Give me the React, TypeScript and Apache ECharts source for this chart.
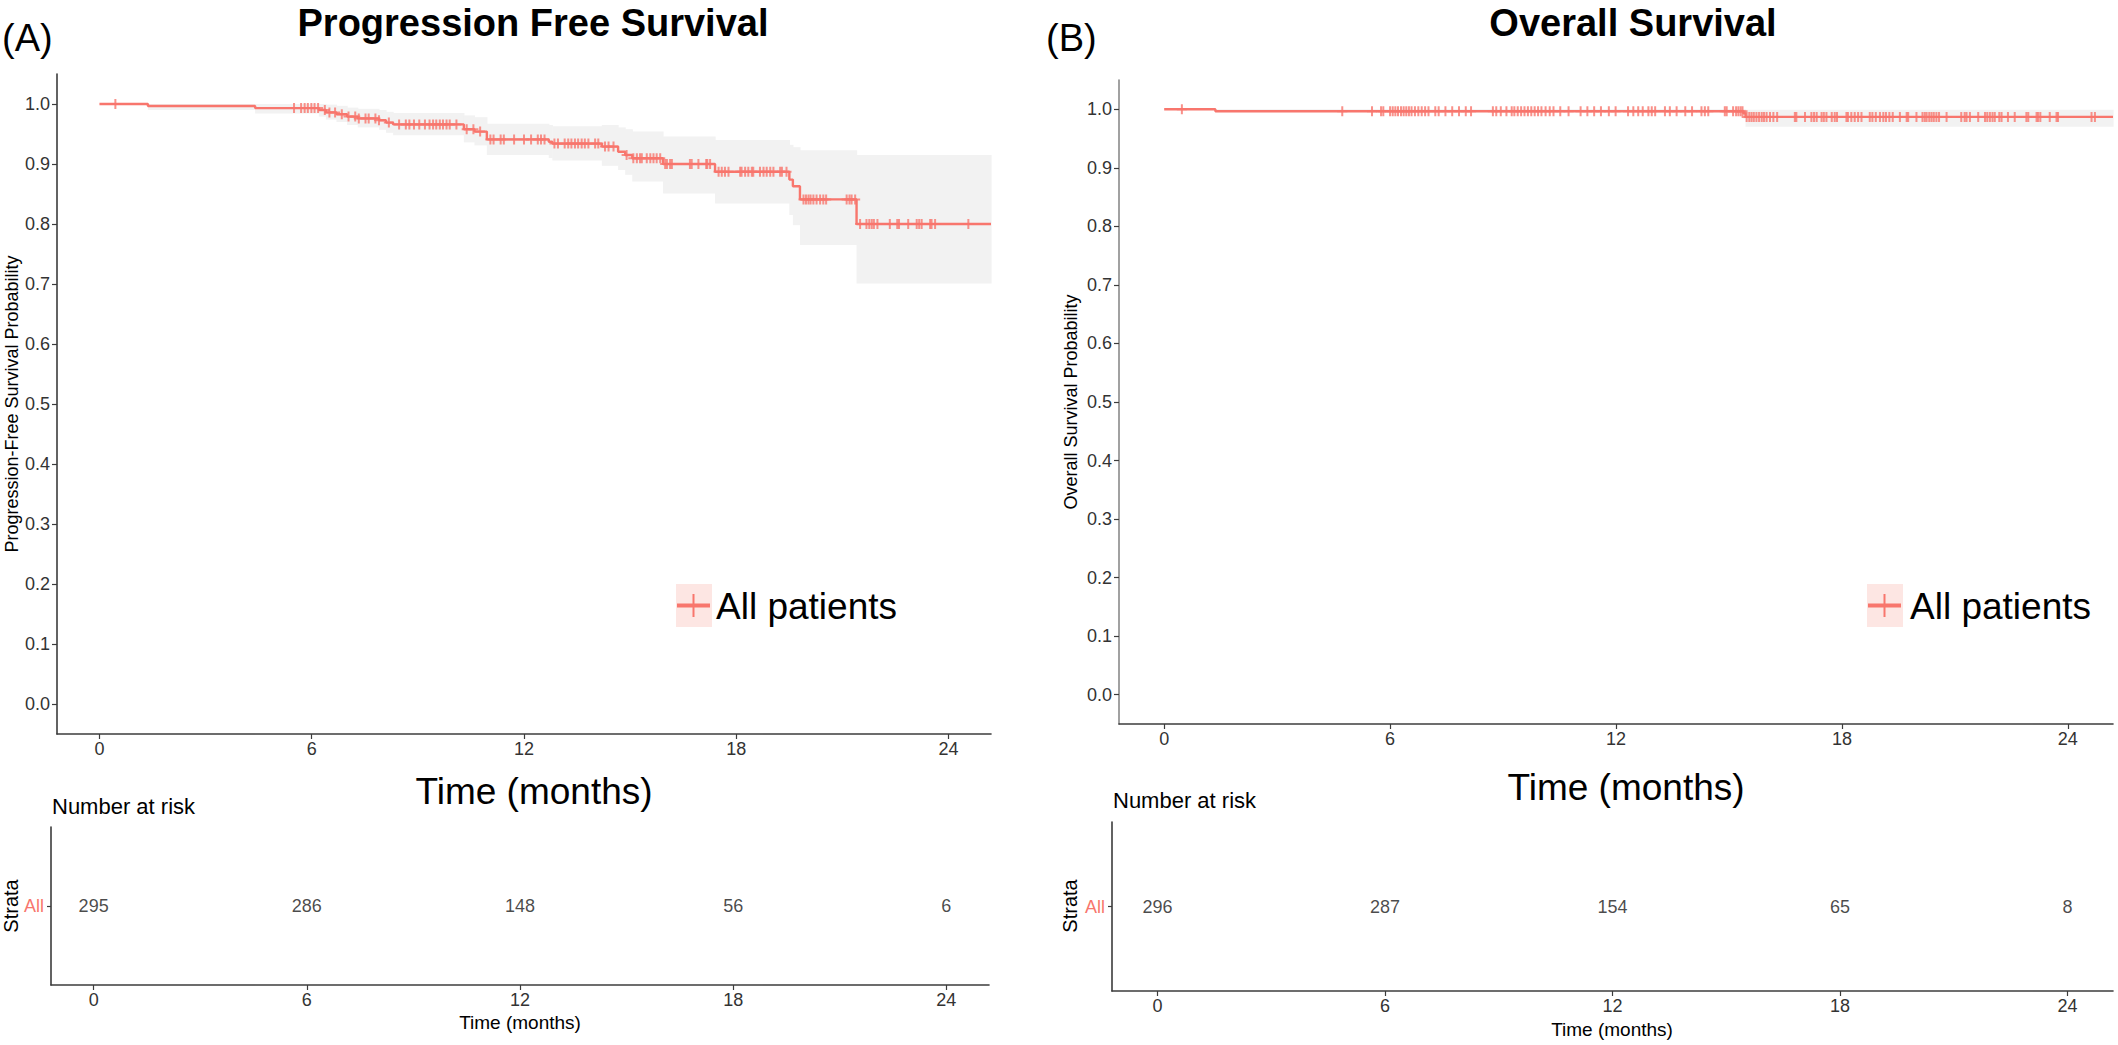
import React, { useEffect, useRef } from "react";
import * as echarts from "echarts";

// ---------- data ----------
const X_TICKS = [0, 6, 12, 18, 24];
const Y_TICKS = [0, 0.1, 0.2, 0.3, 0.4, 0.5, 0.6, 0.7, 0.8, 0.9, 1.0];

// Progression free survival: event times (months) and Kaplan-Meier estimate after each event
const PFS_TIME = [0, 1.37, 4.4, 6.2, 6.4, 6.7, 7.0, 7.3, 7.9, 8.1, 8.3, 10.3, 10.6, 10.95, 12.7, 12.8, 14.2, 14.66, 14.86, 15.06, 15.93, 17.4, 19.5, 19.6, 19.8, 21.4];
const PFS_SURV = [1, 0.9966, 0.9932, 0.99, 0.986, 0.983, 0.979, 0.976, 0.973, 0.969, 0.966, 0.958, 0.954, 0.941, 0.937, 0.934, 0.929, 0.9205, 0.915, 0.9095, 0.9, 0.887, 0.874, 0.863, 0.841, 0.8];
const PFS_LOWER = [1, 0.99, 0.984, 0.979, 0.974, 0.97, 0.965, 0.961, 0.957, 0.952, 0.948, 0.936, 0.931, 0.915, 0.91, 0.906, 0.897, 0.89, 0.882, 0.871, 0.851, 0.834, 0.815, 0.798, 0.765, 0.701];
const PFS_UPPER = [1, 1, 1, 1, 0.999, 0.997, 0.994, 0.992, 0.99, 0.987, 0.985, 0.981, 0.978, 0.967, 0.965, 0.963, 0.965, 0.961, 0.958, 0.954, 0.946, 0.94, 0.932, 0.928, 0.923, 0.915];
const PFS_LAST = 25.2;
const PFS_CENSOR = [0.45, 5.5, 5.7, 5.8, 5.89, 5.99, 6.08, 6.18, 6.37, 6.5, 6.66, 6.85, 7.04, 7.23, 7.33, 7.52, 7.61, 7.8, 7.9, 8.18, 8.47, 8.66, 8.76, 8.89, 9.04, 9.2, 9.33, 9.43, 9.52, 9.62, 9.71, 9.81, 9.9, 10.09, 10.38, 10.57, 10.76, 11.05, 11.14, 11.34, 11.43, 11.72, 12.0, 12.2, 12.39, 12.48, 12.58, 12.86, 12.96, 13.15, 13.25, 13.34, 13.44, 13.53, 13.63, 13.72, 13.82, 14.01, 14.1, 14.29, 14.39, 14.53, 14.9, 15.09, 15.19, 15.28, 15.33, 15.47, 15.57, 15.66, 15.75, 15.85, 15.99, 16.04, 16.13, 16.18, 16.69, 16.74, 16.93, 17.15, 17.18, 17.26, 17.5, 17.59, 17.68, 17.78, 18.11, 18.15, 18.25, 18.34, 18.44, 18.48, 18.67, 18.77, 18.86, 18.96, 19.05, 19.24, 19.29, 19.42, 19.9, 19.97, 20.04, 20.1, 20.18, 20.27, 20.37, 20.46, 20.54, 21.12, 21.2, 21.26, 21.36, 21.5, 21.68, 21.76, 21.83, 21.89, 21.99, 22.34, 22.55, 22.6, 22.86, 23.1, 23.17, 23.24, 23.48, 23.52, 23.62, 24.56];
const PFS_RISK = [295, 286, 148, 56, 6];

// Overall survival
const OS_TIME = [0, 1.36, 15.38, 15.44];
const OS_SURV = [1, 0.9966, 0.9932, 0.987];
const OS_LOWER = [1, 0.995, 0.984, 0.97];
const OS_UPPER = [1, 1, 1, 0.999];
const OS_LAST = 25.2;
const OS_CENSOR = [0.47, 4.73, 5.52, 5.76, 5.82, 6.0, 6.07, 6.14, 6.21, 6.29, 6.36, 6.43, 6.5, 6.57, 6.66, 6.75, 6.84, 6.93, 7.02, 7.2, 7.29, 7.47, 7.65, 7.83, 8.01, 8.15, 8.73, 8.82, 8.94, 9.09, 9.23, 9.3, 9.39, 9.48, 9.57, 9.66, 9.75, 9.84, 9.93, 10.02, 10.13, 10.24, 10.34, 10.52, 10.74, 11.06, 11.24, 11.42, 11.6, 11.81, 11.99, 12.32, 12.46, 12.59, 12.71, 12.86, 12.95, 13.04, 13.3, 13.43, 13.61, 13.84, 14.02, 14.27, 14.36, 14.45, 14.89, 14.94, 15.11, 15.19, 15.25, 15.31, 15.36, 15.47, 15.54, 15.6, 15.66, 15.73, 15.8, 15.87, 15.93, 16.0, 16.09, 16.18, 16.28, 16.75, 16.79, 17.02, 17.19, 17.26, 17.33, 17.46, 17.52, 17.59, 17.73, 17.81, 17.87, 18.12, 18.16, 18.25, 18.34, 18.43, 18.52, 18.74, 18.81, 18.9, 19.01, 19.1, 19.17, 19.26, 19.35, 19.54, 19.72, 19.76, 19.98, 20.14, 20.2, 20.25, 20.32, 20.38, 20.44, 20.51, 20.58, 20.78, 21.17, 21.26, 21.31, 21.4, 21.62, 21.8, 21.86, 21.93, 22.0, 22.06, 22.18, 22.24, 22.41, 22.59, 22.9, 22.95, 23.17, 23.21, 23.27, 23.52, 23.7, 23.74, 24.63, 24.72];
const OS_RISK = [296, 287, 154, 65, 8];

// ---------- styling ----------
const FONT = "'Liberation Sans', Arial, Helvetica, sans-serif";
const RED = "#F8766D";
const BAND = "#F2F2F2";
const INK = "#333333";
const AXIS = "#3c3c3c";
const CROSS = "path://M4,0H6V4H10V6H6V10H4V6H0V4H4Z";

function stepValue(times: number[], surv: number[], t: number): number {
  let v = surv[0];
  for (let i = 0; i < times.length; i++) if (times[i] <= t) v = surv[i];
  return v;
}

function xAxisDef(gridIndex: number) {
  return {
    type: "value",
    gridIndex,
    min: -1.2,
    max: 25.2,
    splitLine: { show: false },
    axisLine: { show: true, onZero: false, lineStyle: { color: AXIS, width: 1.6 } },
    axisTick: { show: true, length: 5, customValues: X_TICKS, lineStyle: { color: AXIS, width: 1.2 } },
    axisLabel: { customValues: X_TICKS, fontSize: 18, color: INK, fontFamily: FONT, margin: 6 },
  };
}

function yMainDef(gridIndex: number, lineColor: string) {
  return {
    type: "value",
    gridIndex,
    min: -0.05,
    max: 1.05,
    splitLine: { show: false },
    axisLine: { show: true, onZero: false, lineStyle: { color: lineColor, width: 1.6 } },
    axisTick: { show: true, length: 5, customValues: Y_TICKS, lineStyle: { color: AXIS, width: 1.2 } },
    axisLabel: {
      customValues: Y_TICKS,
      fontSize: 18,
      color: INK,
      fontFamily: FONT,
      margin: 7,
      formatter: (v: number) => v.toFixed(1),
    },
  };
}

function yRiskDef(gridIndex: number) {
  return {
    type: "category",
    gridIndex,
    data: ["All"],
    splitLine: { show: false },
    axisLine: { show: true, onZero: false, lineStyle: { color: AXIS, width: 1.6 } },
    axisTick: { show: true, length: 4, alignWithLabel: true, lineStyle: { color: AXIS, width: 1.2 } },
    axisLabel: { fontSize: 18, color: RED, fontFamily: FONT, margin: 7 },
  };
}

function survivalSeries(
  times: number[], surv: number[], lower: number[], upper: number[], last: number,
  censor: number[], risk: number[], xMain: number, yMain: number, xRisk: number, yRisk: number
) {
  const bandData = times.map((t, i) => [t, i + 1 < times.length ? times[i + 1] : last, lower[i], upper[i]]);
  const lineData = times.map((t, i) => [t, surv[i]]).concat([[last, surv[surv.length - 1]]]);
  const censorData = censor.map((t) => [t, stepValue(times, surv, t)]);
  const riskData = X_TICKS.map((t, i) => [t, 0, risk[i]]);
  return [
    {
      type: "custom",
      xAxisIndex: xMain,
      yAxisIndex: yMain,
      data: bandData,
      encode: { x: [0, 1], y: [2, 3] },
      z: 1,
      silent: true,
      renderItem: (_p: any, api: any) => {
        const a = api.coord([api.value(0), api.value(3)]);
        const b = api.coord([api.value(1), api.value(2)]);
        return {
          type: "rect",
          shape: { x: a[0], y: a[1], width: b[0] - a[0] + 0.6, height: b[1] - a[1] },
          style: { fill: BAND },
        };
      },
    },
    {
      type: "line",
      xAxisIndex: xMain,
      yAxisIndex: yMain,
      step: "end",
      data: lineData,
      showSymbol: false,
      z: 3,
      lineStyle: { color: RED, width: 2.4 },
      silent: true,
    },
    {
      type: "scatter",
      xAxisIndex: xMain,
      yAxisIndex: yMain,
      data: censorData,
      symbol: CROSS,
      symbolSize: 10,
      z: 4,
      itemStyle: { color: RED },
      silent: true,
    },
    {
      type: "scatter",
      xAxisIndex: xRisk,
      yAxisIndex: yRisk,
      data: riskData,
      symbolSize: 1,
      itemStyle: { color: "rgba(0,0,0,0)" },
      label: {
        show: true,
        position: "inside",
        formatter: (p: any) => String(p.value[2]),
        fontSize: 18,
        color: "#1a1a1a",
        fontFamily: FONT,
      },
      silent: true,
    },
  ];
}

function txt(text: string, x: number, y: number, size: number, opts: any = {}) {
  return {
    type: "text",
    x,
    y,
    rotation: opts.rotation || 0,
    z: 10,
    style: {
      text,
      fill: opts.color || "#000",
      font: `${opts.bold ? "bold " : ""}${size}px ${FONT}`,
      align: opts.align || "center",
      verticalAlign: "middle",
      textAlign: opts.align || "center",
      textVerticalAlign: "middle",
    },
  };
}

function legendKey(x: number) {
  return [
    { type: "rect", shape: { x, y: 584, width: 36, height: 43 }, style: { fill: "#FDE6E3" }, z: 9 },
    { type: "line", shape: { x1: x + 1, y1: 605.5, x2: x + 34, y2: 605.5 }, style: { stroke: RED, lineWidth: 4 }, z: 10 },
    { type: "line", shape: { x1: x + 17.5, y1: 594, x2: x + 17.5, y2: 617 }, style: { stroke: RED, lineWidth: 2 }, z: 10 },
  ];
}

export default function App() {
  const ref = useRef<HTMLDivElement>(null);
  useEffect(() => {
    if (!ref.current) return;
    const chart = echarts.init(ref.current, undefined, { renderer: "svg" });
    chart.setOption({
      animation: false,
      backgroundColor: "#ffffff",
      textStyle: { fontFamily: FONT },
      grid: [
        { left: 57, top: 74, width: 934, height: 660 },
        { left: 51, top: 827, width: 938, height: 158 },
        { left: 1119, top: 80, width: 994, height: 644 },
        { left: 1112, top: 822, width: 1001, height: 169 },
      ],
      xAxis: [xAxisDef(0), xAxisDef(1), xAxisDef(2), xAxisDef(3)],
      yAxis: [yMainDef(0, AXIS), yRiskDef(1), yMainDef(2, "#8a8a8a"), yRiskDef(3)],
      series: [
        ...survivalSeries(PFS_TIME, PFS_SURV, PFS_LOWER, PFS_UPPER, PFS_LAST, PFS_CENSOR, PFS_RISK, 0, 0, 1, 1),
        ...survivalSeries(OS_TIME, OS_SURV, OS_LOWER, OS_UPPER, OS_LAST, OS_CENSOR, OS_RISK, 2, 2, 3, 3),
      ],
      graphic: [
        txt("(A)", 2, 38, 38, { align: "left" }),
        txt("(B)", 1046, 38, 38, { align: "left" }),
        txt("Progression Free Survival", 533, 23, 38, { bold: true }),
        txt("Overall Survival", 1633, 23, 38, { bold: true }),
        txt("Progression-Free Survival Probability", 12, 404, 18, { rotation: Math.PI / 2 }),
        txt("Overall Survival Probability", 1071, 402, 18, { rotation: Math.PI / 2 }),
        txt("Time (months)", 534, 791, 37),
        txt("Time (months)", 1626, 787, 37),
        ...legendKey(676),
        txt("All patients", 716, 606, 37, { align: "left" }),
        ...legendKey(1867),
        txt("All patients", 1910, 606, 37, { align: "left" }),
        txt("Number at risk", 52, 806, 22, { align: "left" }),
        txt("Number at risk", 1113, 800, 22, { align: "left" }),
        txt("Strata", 11, 906, 20, { rotation: Math.PI / 2 }),
        txt("Strata", 1070, 906, 20, { rotation: Math.PI / 2 }),
        txt("Time (months)", 520, 1022, 19),
        txt("Time (months)", 1612, 1029, 19),
      ],
    });
    return () => chart.dispose();
  }, []);
  return (
    <div
      ref={ref}
      style={{ position: "fixed", left: 0, top: 0, width: 2118, height: 1045, background: "#fff" }}
    />
  );
}
